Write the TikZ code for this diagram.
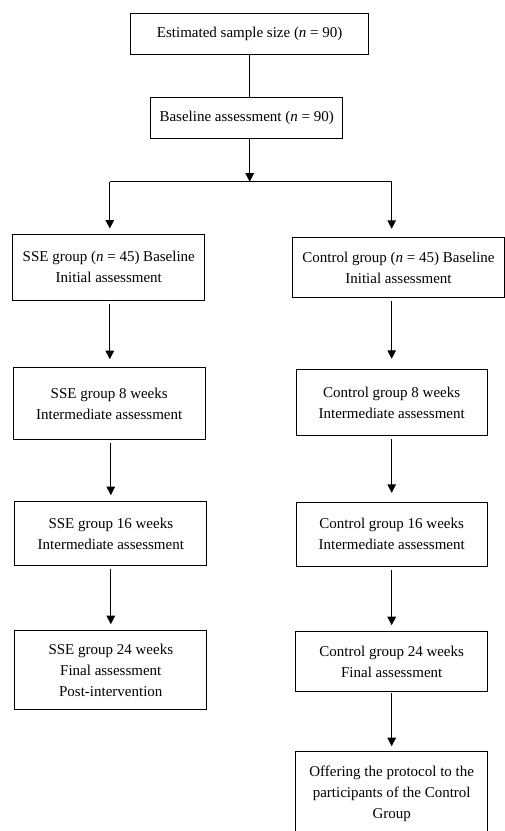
\documentclass[tikz,border=0pt]{standalone}
\usepackage{fontspec}
\setmainfont{Liberation Serif}
\usetikzlibrary{arrows.meta}
\begin{document}
\begin{tikzpicture}[x=1pt,y=-1pt,
  box/.style={draw, line width=1pt, align=center, inner sep=0pt, font=\fontsize{15}{21}\selectfont},
  arr/.style={line width=1pt, -{Triangle[width=8.5pt,length=8.5pt]}, shorten <=3pt, shorten >=6pt},
  ln/.style={line width=1pt}]
\useasboundingbox (0,0) rectangle (505,831);
\clip (0,0) rectangle (505,831);
\fill[white] (0,0) rectangle (505,831);

\node[box, minimum width=238pt, minimum height=40.7pt] (top) at (249.7,33.7) {Estimated sample size (\textit{n} = 90)};
\node[box, minimum width=192pt, minimum height=40.7pt] (base) at (246.7,117.7) {Baseline assessment (\textit{n} = 90)};

\node[box, minimum width=192.3pt, minimum height=66pt] (sse0) at (108.8,267) {SSE group (\textit{n} = 45) Baseline\\Initial assessment};
\node[box, minimum width=212pt, minimum height=60.4pt] (c0) at (398.5,267.5) {Control group (\textit{n} = 45) Baseline\\Initial assessment};

\node[box, minimum width=191.7pt, minimum height=71.6pt] (sse8) at (109.2,403.5) {SSE group 8 weeks\\Intermediate assessment};
\node[box, minimum width=191.3pt, minimum height=66.4pt] (c8) at (391.7,402.5) {Control group 8 weeks\\Intermediate assessment};

\node[box, minimum width=191.7pt, minimum height=64.3pt] (sse16) at (110.8,533.8) {SSE group 16 weeks\\Intermediate assessment};
\node[box, minimum width=191.3pt, minimum height=63.7pt] (c16) at (391.7,534.2) {Control group 16 weeks\\Intermediate assessment};

\node[box, minimum width=191.7pt, minimum height=78.6pt] (sse24) at (110.8,670) {SSE group 24 weeks\\Final assessment\\Post-intervention};
\node[box, minimum width=192pt, minimum height=60pt] (c24) at (391.7,661.7) {Control group 24 weeks\\Final assessment};

\node[box, minimum width=192pt, minimum height=85pt] (offer) at (391.7,794.2) {Offering the protocol to the\\participants of the Control\\Group};

\coordinate (split) at (249.7,181.7);
\coordinate (splitL) at (109.8,181.7);
\coordinate (splitR) at (391.7,181.7);

\draw[ln] (top.south) -- (top.south |- base.north);
\draw[arr, shorten <=0pt, shorten >=0pt] (top.south |- base.south) -- (split);
\draw[ln] (splitL) -- (splitR);
\draw[arr, shorten <=0pt, shorten >=5pt] (splitL) -- (splitL |- sse0.north);
\draw[arr, shorten <=0pt, shorten >=8pt] (splitR) -- (splitR |- c0.north);

\draw[arr, shorten >=8pt] (splitL |- sse0.south) -- (splitL |- sse8.north);
\draw[arr, shorten >=6pt] (sse16.north |- sse8.south) -- (sse16.north);
\draw[arr] (sse16.south) -- (sse24.north);

\draw[arr, shorten >=10pt] (c8.north |- c0.south) -- (c8.north);
\draw[arr, shorten >=9pt] (c8.south) -- (c16.north);
\draw[arr] (c16.south) -- (c24.north);
\draw[arr, shorten <=1pt, shorten >=5pt] (c24.south) -- (offer.north);
\end{tikzpicture}
\end{document}
